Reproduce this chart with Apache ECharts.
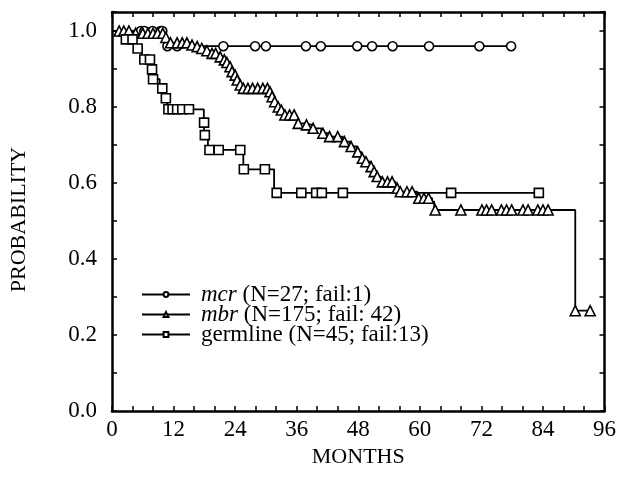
<!DOCTYPE html>
<html>
<head>
<meta charset="utf-8">
<title>PROBABILITY / MONTHS</title>
<script src="https://cdn.jsdelivr.net/npm/echarts@6/dist/echarts.min.js"></script>
<style>
    html, body { margin: 0; padding: 0; background: #fff; }
    #main { width: 619px; height: 482px; }
</style>
</head>
<body>
<div id="main"></div>
<script>
// 刻度
var xTicks = [0, 12, 24, 36, 48, 60, 72, 84, 96];
var yTicks = ['0.0', '0.2', '0.4', '0.6', '0.8', '1.0'];

// 图例
var seriesNames = ['mcr', 'mbr', 'germline'];
var seriesNotes = ['(N=27; fail:1)', '(N=175; fail: 42)', '(N=45; fail:13)'];

// Kaplan-Meier 台阶: [月份, 下降后的概率]
var mcrSteps = [[0, 1], [10.4, 0.96]];
// 删失点 (月份)
var mcrCensored = [5.6, 6.3, 7.9, 9.5, 9.8, 10.8, 12.7, 21.7, 27.9, 30.0, 37.8, 40.7, 47.8, 50.7, 54.7, 61.8, 71.6, 77.8];

var mbrSteps = [
    [0, 1], [4.0, 0.994], [10.2, 0.983], [10.8, 0.969], [15.2, 0.963], [16.2, 0.959],
    [17.2, 0.954], [18.2, 0.948], [19.2, 0.941], [20.8, 0.932], [21.6, 0.924], [22.2, 0.917],
    [22.8, 0.906], [23.2, 0.893], [23.8, 0.884], [24.2, 0.871], [24.8, 0.858], [25.4, 0.849],
    [30.6, 0.840], [31.0, 0.827], [31.5, 0.814], [32.2, 0.800], [32.8, 0.792], [33.5, 0.779],
    [36.0, 0.757], [37.6, 0.753], [39.0, 0.744], [40.8, 0.731], [42.2, 0.722], [45.0, 0.709],
    [46.4, 0.696], [47.7, 0.682], [48.6, 0.665], [49.3, 0.656], [50.3, 0.643], [50.9, 0.630],
    [51.5, 0.617], [52.4, 0.603], [55.3, 0.586], [56.0, 0.577], [59.5, 0.560], [62.4, 0.551],
    [62.8, 0.529], [90.3, 0.264]
];
var mbrCensored = [
    1.4, 2.3, 3.3, 4.6, 6.0, 7.0, 8.0, 8.9, 9.9, 10.5, 11.4, 12.7, 13.7, 14.6, 15.6, 16.6,
    17.5, 18.5, 19.5, 20.2, 21.1, 21.9, 22.4, 23.0, 23.4, 24.0, 24.4, 25.0, 25.6, 26.5, 27.4,
    28.4, 29.4, 30.3, 30.8, 31.2, 31.7, 32.4, 33.0, 33.7, 34.6, 35.5, 36.3, 37.9, 39.2, 41.1,
    42.4, 44.0, 45.3, 46.6, 47.9, 48.8, 49.5, 50.5, 51.1, 51.7, 52.7, 53.7, 54.6, 55.6, 56.2,
    57.5, 58.5, 59.8, 60.8, 61.7, 63.0, 68.0, 72.1, 73.0, 74.0, 75.9, 76.9, 77.9, 80.1, 81.1,
    83.0, 84.0, 85.0, 90.3, 93.2
];

var germSteps = [
    [0, 1], [2.0, 0.978], [4.6, 0.954], [5.8, 0.925], [7.6, 0.899], [7.9, 0.873], [9.3, 0.849],
    [10.3, 0.823], [10.8, 0.794], [17.9, 0.759], [18.0, 0.726], [18.7, 0.687], [25.6, 0.636],
    [31.6, 0.574]
];
var germCensored = [
    2.7, 4.0, 5.0, 6.3, 7.4, 7.8, 8.0, 9.8, 10.5, 11.0, 11.8, 12.7, 13.7, 15.0, 17.95, 18.1,
    19.0, 20.8, 25.0, 25.7, 29.8, 32.1, 36.9, 39.8, 40.9, 45.0, 66.1, 83.2
];

(function () {
    var FONT = '"Liberation Serif", "Times New Roman", serif';

    // 某时刻的生存概率
    function levelAt(steps, t) {
        var p = steps[0][1];
        for (var i = 0; i < steps.length; i++) {
            if (steps[i][0] <= t) p = steps[i][1];
        }
        return p;
    }

    // 台阶点不画符号, 删失点画符号
    function buildData(steps, censored) {
        var pts = [];
        steps.forEach(function (s) {
            pts.push({ k: 0, item: { value: [s[0], s[1]], symbol: 'none' } });
        });
        censored.forEach(function (t) {
            pts.push({ k: 1, item: { value: [t, levelAt(steps, t)] } });
        });
        pts.sort(function (a, b) {
            return (a.item.value[0] - b.item.value[0]) || (a.k - b.k);
        });
        return pts.map(function (p) { return p.item; });
    }

    function kmSeries(name, symbol, size, steps, censored) {
        return {
            name: name,
            type: 'line',
            step: 'end',
            symbol: symbol,
            symbolSize: size,
            showSymbol: true,
            showAllSymbol: true,
            silent: true,
            animation: false,
            lineStyle: { color: '#000', width: 1.8 },
            itemStyle: { color: '#fff', borderColor: '#000', borderWidth: 1.6 },
            emphasis: { disabled: true },
            data: buildData(steps, censored)
        };
    }

    var myCharts = echarts.init(document.getElementById('main'));

    var axisLine = { show: true, onZero: false, lineStyle: { color: '#000', width: 2.5 } };
    var tick = { show: true, inside: true, length: 5, lineStyle: { color: '#000', width: 1.5 } };

    var option = {
        backgroundColor: '#fff',
        grid: { left: 111, top: 12, right: 12, bottom: 71 },
        legend: {
            orient: 'vertical',
            left: 136,
            top: 278,
            itemWidth: 48,
            itemHeight: 6,
            itemGap: -3,
            data: seriesNames,
            formatter: function (name) {
                var i = seriesNames.indexOf(name);
                var head = i < 2 ? '{it|' + name + '}' : '{n|' + name + '}';
                return head + '{n| ' + seriesNotes[i] + '}';
            },
            textStyle: {
                padding: [0, 0, 0, 6],
                fontSize: 23,
                lineHeight: 20,
                rich: {
                    it: { fontFamily: FONT, fontStyle: 'italic', fontSize: 23, lineHeight: 20, color: '#000' },
                    n: { fontFamily: FONT, fontSize: 23, lineHeight: 20, color: '#000' }
                }
            }
        },
        xAxis: [{
            type: 'value',
            min: 0,
            max: 96,
            interval: 4,
            name: 'MONTHS',
            nameLocation: 'middle',
            nameGap: 31,
            nameTextStyle: { fontFamily: FONT, fontSize: 22, color: '#000' },
            axisLine: axisLine,
            axisTick: tick,
            splitLine: { show: false },
            axisLabel: {
                margin: 7,
                fontFamily: FONT,
                fontSize: 23,
                color: '#000',
                formatter: function (v) {
                    return xTicks.indexOf(v) >= 0 ? String(v) : '';
                }
            }
        }, {
            // 上边框
            type: 'value',
            position: 'top',
            min: 0,
            max: 96,
            interval: 4,
            axisLine: axisLine,
            axisTick: tick,
            axisLabel: { show: false },
            splitLine: { show: false }
        }],
        yAxis: [{
            type: 'value',
            min: 0,
            max: 1.05,
            interval: 0.1,
            name: 'PROBABILITY',
            nameLocation: 'middle',
            nameGap: 82,
            nameTextStyle: { fontFamily: FONT, fontSize: 22, color: '#000', padding: [0, 16, 0, 0] },
            axisLine: axisLine,
            axisTick: tick,
            splitLine: { show: false },
            axisLabel: {
                margin: 15,
                fontFamily: FONT,
                fontSize: 23,
                color: '#000',
                formatter: function (v) {
                    var s = v.toFixed(1);
                    return yTicks.indexOf(s) >= 0 && Math.abs(v - parseFloat(s)) < 1e-6 ? s : '';
                }
            }
        }, {
            // 右边框
            type: 'value',
            position: 'right',
            min: 0,
            max: 1.05,
            interval: 0.1,
            axisLine: axisLine,
            axisTick: tick,
            axisLabel: { show: false },
            splitLine: { show: false }
        }],
        series: [
            kmSeries(seriesNames[0], 'circle', 9, mcrSteps, mcrCensored),
            kmSeries(seriesNames[1], 'triangle', 10, mbrSteps, mbrCensored),
            kmSeries(seriesNames[2], 'rect', 9, germSteps, germCensored)
        ]
    };

    myCharts.setOption(option);
})();
</script>
</body>
</html>
